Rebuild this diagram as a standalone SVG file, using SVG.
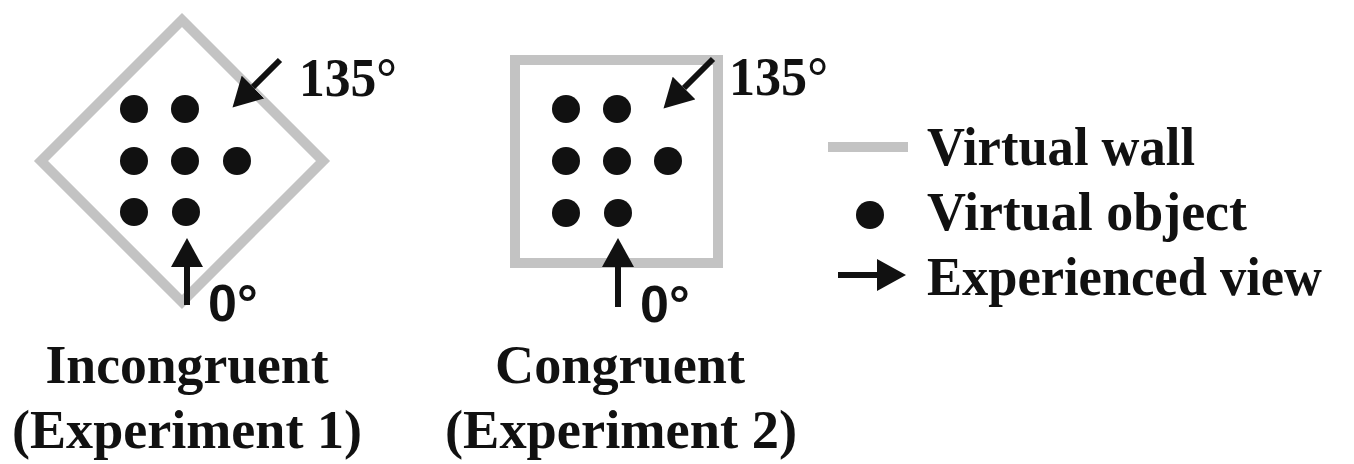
<svg xmlns="http://www.w3.org/2000/svg" width="1354" height="464" viewBox="0 0 1354 464">
<style>
.wall{fill:none;stroke:#c3c3c3;stroke-width:10;stroke-linejoin:miter}
.dot{fill:#111}
.arr{stroke:#111;stroke-width:6;fill:none}
.serif{font-family:"Liberation Serif","Times New Roman",serif;font-weight:bold;fill:#111}
.sans{font-family:"Liberation Sans",Arial,sans-serif;font-weight:bold;fill:#111}
</style>
<defs>
<marker id="head" markerUnits="userSpaceOnUse" markerWidth="30" markerHeight="32" refX="0" refY="16" orient="auto">
<path d="M0,0 L29,16 L0,32 z" fill="#111"/>
</marker>
</defs>
<rect width="1354" height="464" fill="#fff"/>
<g id="incongruent">
<polygon class="wall" points="182,20 323,161 182,302 41,161"/>
<circle class="dot" cx="134" cy="109" r="14"/>
<circle class="dot" cx="185" cy="109" r="14"/>
<circle class="dot" cx="134" cy="161" r="14"/>
<circle class="dot" cx="185" cy="161" r="14"/>
<circle class="dot" cx="237" cy="161" r="14"/>
<circle class="dot" cx="134" cy="212" r="14"/>
<circle class="dot" cx="186" cy="212" r="14"/>
<text class="serif" x="299" y="96" font-size="55" textLength="98" lengthAdjust="spacingAndGlyphs">135°</text>
<text class="sans" x="208" y="321" font-size="52">0°</text>
<text class="serif" x="187" y="383" font-size="55" text-anchor="middle" textLength="283" lengthAdjust="spacingAndGlyphs">Incongruent</text>
<text class="serif" x="187" y="448" font-size="55" text-anchor="middle" textLength="350" lengthAdjust="spacingAndGlyphs">(Experiment 1)</text>
</g>
<g id="congruent">
<rect class="wall" x="515" y="60" width="203" height="203"/>
<circle class="dot" cx="566" cy="109" r="14"/>
<circle class="dot" cx="617" cy="109" r="14"/>
<circle class="dot" cx="566" cy="161" r="14"/>
<circle class="dot" cx="617" cy="161" r="14"/>
<circle class="dot" cx="668" cy="161" r="14"/>
<circle class="dot" cx="566" cy="213" r="14"/>
<circle class="dot" cx="618" cy="213" r="14"/>
<text class="serif" x="729" y="95" font-size="55" textLength="99" lengthAdjust="spacingAndGlyphs">135°</text>
<text class="sans" x="640" y="322" font-size="52">0°</text>
<text class="serif" x="620" y="383" font-size="55" text-anchor="middle" textLength="250" lengthAdjust="spacingAndGlyphs">Congruent</text>
<text class="serif" x="621" y="448" font-size="55" text-anchor="middle" textLength="352" lengthAdjust="spacingAndGlyphs">(Experiment 2)</text>
</g>
<g id="legend">
<line x1="828" y1="147" x2="908" y2="147" stroke="#c3c3c3" stroke-width="10"/>
<text class="serif" x="927" y="165" font-size="54" textLength="268" lengthAdjust="spacingAndGlyphs">Virtual wall</text>
<circle class="dot" cx="870" cy="215" r="14"/>
<text class="serif" x="927" y="230" font-size="54" textLength="320" lengthAdjust="spacingAndGlyphs">Virtual object</text>
<text class="serif" x="927" y="295" font-size="54" textLength="395" lengthAdjust="spacingAndGlyphs">Experienced view</text>
</g>
<g id="connectors">
<line class="arr" x1="280" y1="60" x2="253" y2="87" marker-end="url(#head)"/>
<line class="arr" x1="187" y1="305" x2="187" y2="267" marker-end="url(#head)"/>
<line class="arr" x1="713" y1="59" x2="684" y2="88" marker-end="url(#head)"/>
<line class="arr" x1="618" y1="307" x2="618" y2="267" marker-end="url(#head)"/>
<line class="arr" x1="838" y1="275" x2="877" y2="275" marker-end="url(#head)"/>
</g>
</svg>
